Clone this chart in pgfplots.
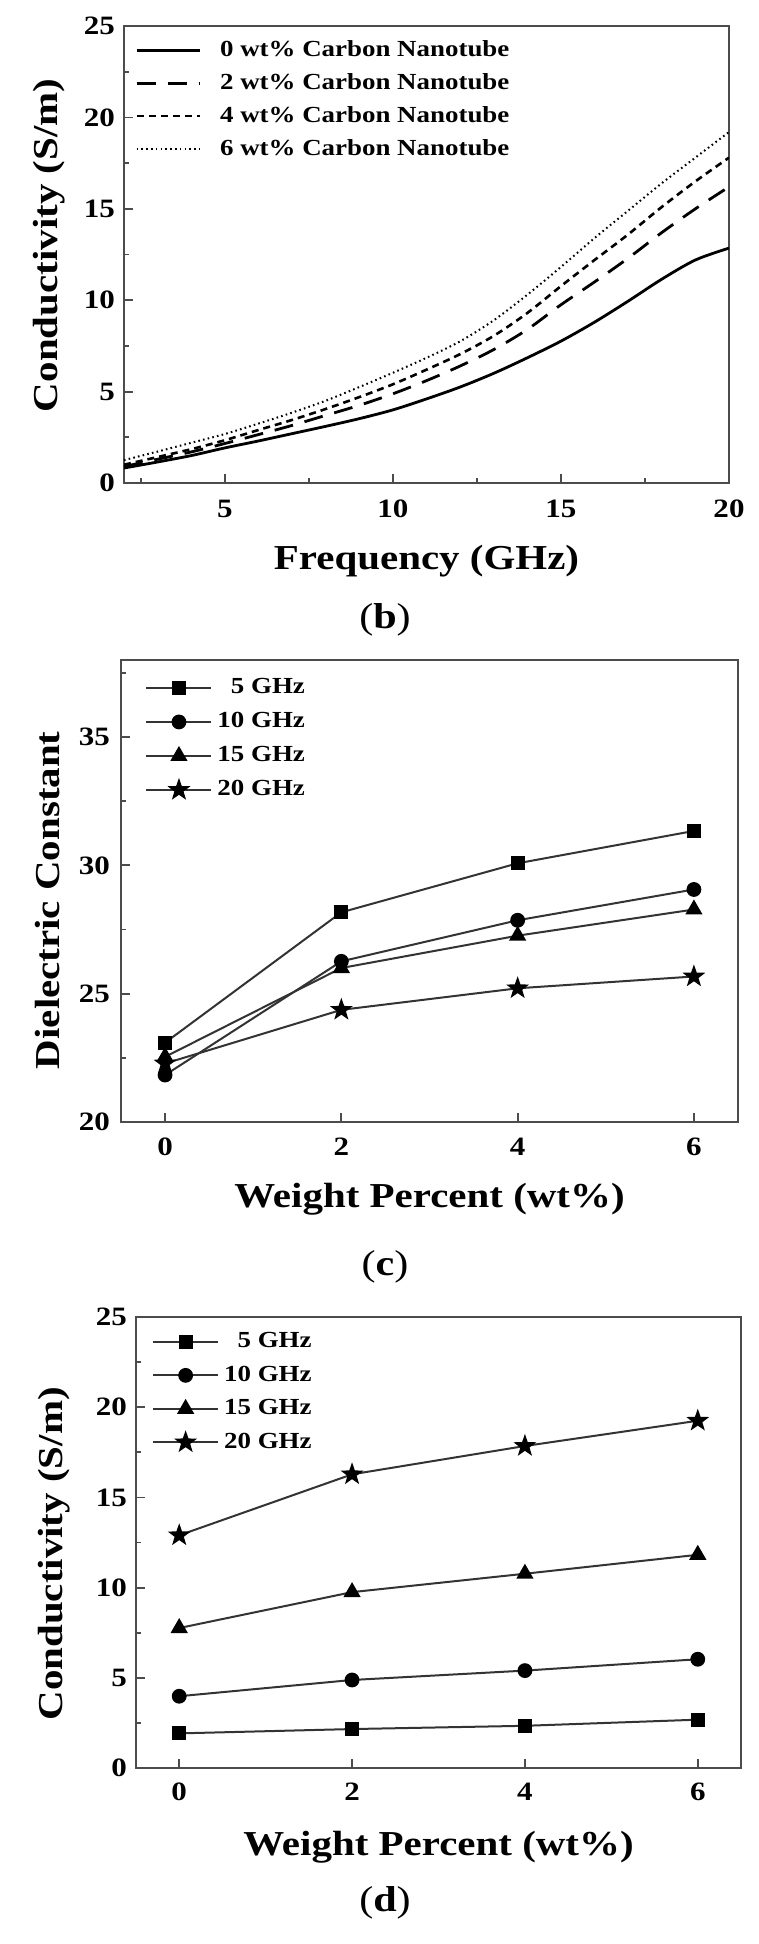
\documentclass[border=0pt]{standalone}
\usepackage{fontspec}
\setmainfont{Liberation Serif}[FakeStretch=1.17]
\usepackage{pgfplots}
\pgfplotsset{compat=1.18}
\definecolor{framegray}{gray}{0.3}
\definecolor{linegray}{gray}{0.2}

\pgfdeclareplotmark{fstar}{%
  \pgfpathmoveto{\pgfqpointpolar{90}{\pgfplotmarksize}}%
  \pgfpathlineto{\pgfqpointpolar{126}{0.4\pgfplotmarksize}}%
  \pgfpathlineto{\pgfqpointpolar{162}{\pgfplotmarksize}}%
  \pgfpathlineto{\pgfqpointpolar{198}{0.4\pgfplotmarksize}}%
  \pgfpathlineto{\pgfqpointpolar{234}{\pgfplotmarksize}}%
  \pgfpathlineto{\pgfqpointpolar{270}{0.4\pgfplotmarksize}}%
  \pgfpathlineto{\pgfqpointpolar{306}{\pgfplotmarksize}}%
  \pgfpathlineto{\pgfqpointpolar{342}{0.4\pgfplotmarksize}}%
  \pgfpathlineto{\pgfqpointpolar{18}{\pgfplotmarksize}}%
  \pgfpathlineto{\pgfqpointpolar{54}{0.4\pgfplotmarksize}}%
  \pgfpathclose\pgfusepathqfillstroke}

\pgfplotsset{
  myaxis/.style={
    scale only axis,
    axis line style={draw=framegray, line width=1pt},
    tick style={draw=framegray, line width=0.9pt},
    tick align=inside,
    xtick pos=bottom, ytick pos=left,
    major tick length=4.5pt, minor tick length=2.5pt,
    tick label style={font=\fontsize{13.25pt}{15pt}\selectfont\bfseries},
    /pgf/number format/assume math mode=true,
    label style={font=\fontsize{17.5pt}{20pt}\selectfont\bfseries},
    legend style={draw=none, fill=none, inner sep=0pt,
      font=\fontsize{11.5pt}{13pt}\selectfont\bfseries,
      nodes={inner sep=0pt, text height=8pt, text depth=2pt}},
  },
  mkline/.style={linegray, line width=1pt},
  mklegend/.style={legend image code/.code={\draw[##1, mark repeat=2, mark phase=2] plot coordinates {(0pt,0pt) (16.25pt,0pt) (32.5pt,0pt)};}},
}

\begin{document}
\begin{tikzpicture}
\useasboundingbox (0,0) rectangle (379.5pt,-972pt);

% ---------------- (b) ----------------
\begin{axis}[myaxis, at={(62pt,-241.5pt)}, anchor=south west,
  width=302.5pt, height=228.5pt,
  xmin=2, xmax=20, ymin=0, ymax=25,
  xtick={5,10,15,20}, minor xtick={2.5,7.5,12.5,17.5},
  ytick={0,5,10,15,20,25}, minor ytick={2.5,7.5,12.5,17.5,22.5},
  xticklabel style={yshift=-5pt}, yticklabel style={xshift=-1pt},
  xlabel={Frequency (GHz)}, ylabel={Conductivity (S/m)},
  xlabel style={at={(axis description cs:0.5,0)}, anchor=north, inner sep=0pt, yshift=-31pt},
  ylabel style={at={(axis description cs:-0.0975,0.52)}, anchor=south, inner sep=0pt},
  legend style={at={(axis description cs:0.018,0.970)}, anchor=north west, row sep=6.5pt, column sep=9.5pt},
  legend cell align=left,
  legend image code/.code={\draw[#1] (0pt,0pt) -- (31.5pt,0pt);},
]
\addplot[black, line width=1.4pt, smooth] coordinates {
(2,0.82) (3,1.15) (4,1.5) (5,1.92) (6,2.3) (7,2.7) (8,3.1) (9,3.52) (10,4.0) (11,4.6) (12,5.25) (13,6.0) (14,6.85) (15,7.76) (16,8.8) (17,9.95) (18,11.15) (19,12.2) (20,12.85)};
\addlegendentry{0 wt\% Carbon Nanotube}
\addplot[black, line width=1.4pt, smooth, dash pattern=on 9.5pt off 6pt] coordinates {
(2,0.9) (3,1.3) (4,1.7) (5,2.16) (6,2.65) (7,3.15) (8,3.7) (9,4.25) (10,4.88) (11,5.6) (12,6.4) (13,7.3) (14,8.4) (15,9.75) (16,11.0) (17,12.3) (18,13.7) (19,15.0) (20,16.2)};
\addlegendentry{2 wt\% Carbon Nanotube}
\addplot[black, line width=1.3pt, smooth, dash pattern=on 3.5pt off 2.5pt] coordinates {
(2,1.0) (3,1.42) (4,1.85) (5,2.34) (6,2.9) (7,3.45) (8,4.05) (9,4.7) (10,5.4) (11,6.2) (12,7.05) (13,8.05) (14,9.3) (15,10.77) (16,12.2) (17,13.6) (18,15.1) (19,16.5) (20,17.8)};
\addlegendentry{4 wt\% Carbon Nanotube}
\addplot[black, line width=1pt, smooth, dash pattern=on 0.8pt off 1.6pt] coordinates {
(2,1.25) (3,1.72) (4,2.2) (5,2.68) (6,3.25) (7,3.85) (8,4.5) (9,5.25) (10,6.03) (11,6.85) (12,7.75) (13,8.9) (14,10.3) (15,11.82) (16,13.4) (17,14.9) (18,16.4) (19,17.8) (20,19.2)};
\addlegendentry{6 wt\% Carbon Nanotube}
\end{axis}
\node[font=\fontsize{18pt}{20pt}\selectfont] at (192.5pt,-310pt) {(\textbf{b})};

% ---------------- (c) ----------------
\begin{axis}[myaxis, mklegend, at={(60.5pt,-561pt)}, anchor=south west,
  width=308.5pt, height=231pt,
  xmin=-0.5, xmax=6.5, ymin=20, ymax=38,
  xtick={0,2,4,6},
  ytick={20,25,30,35}, minor ytick={22.5,27.5,32.5,37.5},
  xticklabel style={yshift=-4.5pt}, yticklabel style={xshift=-2pt},
  xlabel={Weight Percent (wt\%)}, ylabel={Dielectric Constant},
  xlabel style={at={(axis description cs:0.5,0)}, anchor=north, inner sep=0pt, yshift=-30.5pt},
  ylabel style={at={(axis description cs:-0.099,0.48)}, anchor=south, inner sep=0pt},
  legend style={at={(axis description cs:0.039,0.962)}, anchor=north west, row sep=7pt, column sep=2.5pt},
  legend cell align=right,
]
\addplot[mkline, mark=square*, mark size=3pt, mark options={black, fill=black}] coordinates {(0,23.09) (2,28.17) (4,30.08) (6,31.34)};
\addlegendentry{5 GHz}
\addplot[mkline, mark=*, mark size=3.2pt, mark options={black, fill=black}] coordinates {(0,21.83) (2,26.26) (4,27.86) (6,29.06)};
\addlegendentry{10 GHz}
\addplot[mkline, mark=triangle*, mark size=4pt, mark options={black, fill=black}] coordinates {(0,22.54) (2,26.0) (4,27.26) (6,28.28)};
\addlegendentry{15 GHz}
\addplot[mkline, mark=fstar, mark size=4.5pt, mark options={black, fill=black}] coordinates {(0,22.28) (2,24.37) (4,25.21) (6,25.67)};
\addlegendentry{20 GHz}
\end{axis}
\node[font=\fontsize{18pt}{20pt}\selectfont] at (192.5pt,-633.5pt) {(\textbf{c})};

% ---------------- (d) ----------------
\begin{axis}[myaxis, mklegend, at={(68pt,-884pt)}, anchor=south west,
  width=302.5pt, height=225.5pt,
  xmin=-0.5, xmax=6.5, ymin=0, ymax=25,
  xtick={0,2,4,6},
  ytick={0,5,10,15,20,25}, minor ytick={2.5,7.5,12.5,17.5,22.5},
  xticklabel style={yshift=-4pt}, yticklabel style={xshift=-1pt},
  xlabel={Weight Percent (wt\%)}, ylabel={Conductivity (S/m)},
  xlabel style={at={(axis description cs:0.5,0)}, anchor=north, inner sep=0pt, yshift=-31.5pt},
  ylabel style={at={(axis description cs:-0.109,0.475)}, anchor=south, inner sep=0pt},
  legend style={at={(axis description cs:0.026,0.968)}, anchor=north west, row sep=6.75pt, column sep=2.5pt},
  legend cell align=right,
]
\addplot[mkline, mark=square*, mark size=3pt, mark options={black, fill=black}] coordinates {(0,1.92) (2,2.16) (4,2.34) (6,2.68)};
\addlegendentry{5 GHz}
\addplot[mkline, mark=*, mark size=3.2pt, mark options={black, fill=black}] coordinates {(0,3.98) (2,4.88) (4,5.4) (6,6.03)};
\addlegendentry{10 GHz}
\addplot[mkline, mark=triangle*, mark size=4pt, mark options={black, fill=black}] coordinates {(0,7.76) (2,9.75) (4,10.77) (6,11.82)};
\addlegendentry{15 GHz}
\addplot[mkline, mark=fstar, mark size=4.5pt, mark options={black, fill=black}] coordinates {(0,12.9) (2,16.28) (4,17.85) (6,19.25)};
\addlegendentry{20 GHz}
\end{axis}
\node[font=\fontsize{18pt}{20pt}\selectfont] at (192.5pt,-951.5pt) {(\textbf{d})};
\end{tikzpicture}
\end{document}
